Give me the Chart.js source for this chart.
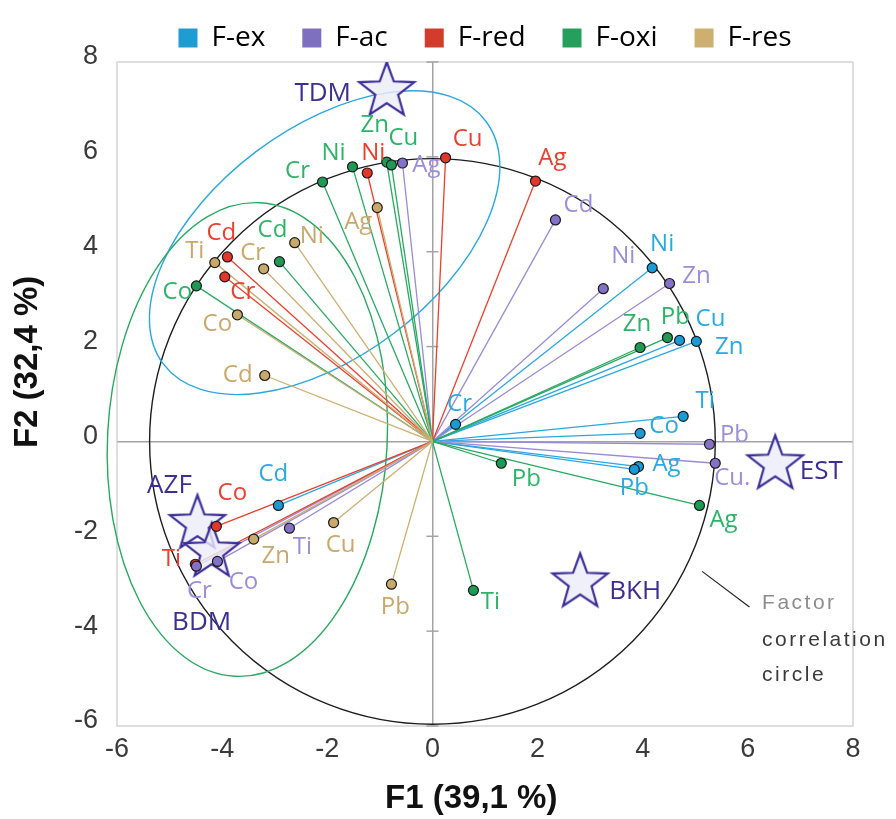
<!DOCTYPE html>
<html>
<head>
<meta charset="utf-8">
<script src="https://cdn.jsdelivr.net/npm/chart.js@4.4.1/dist/chart.umd.min.js"></script>
<style>
  html, body { margin: 0; padding: 0; background: #fff; }
  #wrap { width: 896px; height: 819px; }
</style>
</head>
<body>
<div id="wrap"><canvas id="biplot"></canvas></div>
<script>
// PCA biplot - loadings of metal fractions on F1/F2, plus sampling sites

const xTicks = [-6, -4, -2, 0, 2, 4, 6, 8];
const yTicks = [-6, -4, -2, 0, 2, 4, 6, 8];

const exNames = ['Ni', 'Cu', 'Zn', 'Ti', 'Co', 'Ag', 'Pb', 'Cr', 'Cd'];
const exF1 = [4.18, 4.70, 5.02, 4.77, 3.95, 3.92, 3.84, 0.44, -2.93];
const exF2 = [3.66, 2.13, 2.11, 0.53, 0.17, -0.53, -0.59, 0.36, -1.35];

const acNames = ['Ag', 'Cd', 'Ni', 'Zn', 'Pb', 'Cu.', 'Ti', 'Co', 'Cr'];
const acF1 = [-0.57, 2.34, 3.25, 4.51, 5.27, 5.38, -2.72, -4.09, -4.49];
const acF2 = [5.87, 4.67, 3.22, 3.33, -0.06, -0.46, -1.83, -2.53, -2.63];

const redNames = ['Cu', 'Ag', 'Ni', 'Cd', 'Cr', 'Co', 'Ti'];
const redF1 = [0.25, 1.96, -1.24, -3.90, -3.95, -4.11, -4.51];
const redF2 = [5.98, 5.49, 5.66, 3.89, 3.47, -1.79, -2.59];

const oxiNames = ['Zn', 'Cu', 'Ni', 'Cr', 'Cd', 'Co', 'Zn', 'Pb', 'Ag', 'Pb', 'Ti'];
const oxiF1 = [-0.87, -0.78, -1.52, -2.09, -2.91, -4.49, 3.95, 4.47, 5.08, 1.31, 0.78];
const oxiF2 = [5.89, 5.83, 5.79, 5.47, 3.79, 3.28, 1.98, 2.19, -1.35, -0.46, -3.14];

const resNames = ['Ag', 'Ni', 'Cr', 'Ti', 'Co', 'Cd', 'Zn', 'Cu', 'Pb'];
const resF1 = [-1.05, -2.62, -3.21, -4.14, -3.71, -3.19, -3.40, -1.88, -0.78];
const resF2 = [4.93, 4.19, 3.64, 3.77, 2.67, 1.39, -2.06, -1.71, -3.01];

const siteNames = ['TDM', 'EST', 'BKH', 'AZF', 'BDM'];
const siteF1 = [-0.87, 6.52, 2.81, -4.47, -4.20];
const siteF2 = [7.45, -0.42, -2.91, -1.68, -2.27];

// label placement (pixel offsets from each marker)
const exLabelOff = [[10, -24], [31, -21], [33, 6], [22, -15], [24, -7], [28, -2], [0, 19], [4, -20], [-5, -31]];
const acLabelOff = [[24, 2], [23, -15], [20, -33], [27, -7], [25, -9], [17, 15], [13, 19], [26, 21], [3, 25]];
const redLabelOff = [[22, -19], [17, -23], [6, -20], [-6, -24], [18, 15], [16, -33], [-24, -5]];
const oxiLabelOff = [[-12, -37], [12, -27], [-19, -14], [-25, -11], [-7, -32], [-19, 6], [-3, -23], [8, -20], [24, 15], [25, 16], [17, 12]];
const resLabelOff = [[-19, 15], [17, -7], [-11, -16], [-20, -11], [-20, 9], [-27, 0], [22, 17], [7, 23], [4, 23]];
const siteLabelOff = [[-64, 6], [46, 10], [55, 12], [-28, -36], [-10, 74]];

// circle radius and group ellipses, in F1 units
const circleRadius = 5.38;
const groups = [
    { cx: -2.05, cy: 4.19, rx: 3.84, ry: 2.17, rot: -37, color: '#2ba7df' },
    { cx: -3.52, cy: 0.04, rx: 2.66, ry: 4.51, rot: 3, color: '#2aa862' },
];

function pts(f1, f2) {
    return f1.map((v, i) => ({ x: v, y: f2[i] }));
}

function starImage() {
    const c = document.createElement('canvas');
    c.width = 66;
    c.height = 64;
    const g = c.getContext('2d');
    const cx = 33, cy = 35, R = 29, r = 12;
    g.beginPath();
    for (let k = 0; k < 10; k++) {
        const ang = -Math.PI / 2 + k * Math.PI / 5;
        const rr = k % 2 ? r : R;
        g.lineTo(cx + rr * Math.cos(ang), cy + rr * Math.sin(ang));
    }
    g.closePath();
    g.fillStyle = 'rgba(236, 236, 250, 0.8)';
    g.fill();
    g.strokeStyle = '#3b2e98';
    g.lineWidth = 2.2;
    g.stroke();
    return c;
}

function series(label, names, f1, f2, off, dot, ray, text, legend) {
    return {
        label: label,
        data: pts(f1, f2),
        names: names,
        off: off,
        ray: ray,
        textColor: text,
        backgroundColor: legend,
        borderColor: legend,
        borderWidth: 0,
        pointRadius: 5,
        pointHoverRadius: 5,
        pointBackgroundColor: dot,
        pointBorderColor: '#1a1a1a',
        pointBorderWidth: 1.2,
    };
}

const labelFont = '24px "Open Sans", sans-serif';

const decor = {
    id: 'decor',
    beforeDatasetsDraw(chart) {
        const { ctx, chartArea: a, scales: { x, y } } = chart;
        const ox = x.getPixelForValue(0), oy = y.getPixelForValue(0);
        const ux = x.getPixelForValue(1) - ox;
        ctx.save();
        ctx.strokeStyle = '#c9c9c9';
        ctx.lineWidth = 1.2;
        ctx.strokeRect(a.left, a.top, a.right - a.left, a.bottom - a.top);

        ctx.strokeStyle = '#a3a3a3';
        ctx.lineWidth = 1.5;
        y.ticks.forEach(t => {
            if (t.value === 0) return;
            const py = y.getPixelForValue(t.value);
            ctx.beginPath();
            ctx.moveTo(ox - 6, py);
            ctx.lineTo(ox + 6, py);
            ctx.stroke();
        });

        ctx.strokeStyle = '#1e1e1e';
        ctx.lineWidth = 1.4;
        ctx.beginPath();
        ctx.arc(ox, oy, circleRadius * ux, 0, Math.PI * 2);
        ctx.stroke();

        groups.forEach(gr => {
            ctx.strokeStyle = gr.color;
            ctx.lineWidth = 1.4;
            ctx.beginPath();
            ctx.ellipse(x.getPixelForValue(gr.cx), y.getPixelForValue(gr.cy),
                gr.rx * ux, gr.ry * ux, gr.rot * Math.PI / 180, 0, Math.PI * 2);
            ctx.stroke();
        });

        chart.data.datasets.forEach((ds, i) => {
            if (!ds.ray) return;
            ctx.strokeStyle = ds.ray;
            ctx.lineWidth = 1.3;
            chart.getDatasetMeta(i).data.forEach(p => {
                ctx.beginPath();
                ctx.moveTo(ox, oy);
                ctx.lineTo(p.x, p.y);
                ctx.stroke();
            });
        });
        ctx.restore();
    },
    afterDatasetsDraw(chart) {
        const { ctx, scales: { x, y } } = chart;
        ctx.save();
        ctx.textAlign = 'center';
        ctx.textBaseline = 'middle';
        chart.data.datasets.forEach((ds, i) => {
            ctx.font = ds.ray ? labelFont : '26px "Open Sans", sans-serif';
            ctx.fillStyle = ds.textColor;
            chart.getDatasetMeta(i).data.forEach((p, j) => {
                ctx.fillText(ds.names[j], p.x + ds.off[j][0], p.y + ds.off[j][1]);
            });
        });

        // "Factor correlation circle" note
        ctx.strokeStyle = '#222';
        ctx.lineWidth = 1.2;
        ctx.beginPath();
        ctx.moveTo(x.getPixelForValue(5.13), y.getPixelForValue(-2.74));
        ctx.lineTo(x.getPixelForValue(6.03), y.getPixelForValue(-3.49));
        ctx.stroke();
        ctx.textAlign = 'left';
        ctx.textBaseline = 'alphabetic';
        ctx.font = '21px "Liberation Sans", sans-serif';
        ctx.letterSpacing = '2.5px';
        const tx = x.getPixelForValue(6.27);
        ctx.fillStyle = '#8c8c8c';
        ctx.fillText('Factor', tx, y.getPixelForValue(-3.54));
        ctx.fillStyle = '#3a3a3a';
        ctx.fillText('correlation', tx, y.getPixelForValue(-4.32));
        ctx.fillText('circle', tx, y.getPixelForValue(-5.05));
        ctx.restore();
    }
};

document.addEventListener('DOMContentLoaded', function () {
    const canvas = document.getElementById('biplot');
    const ctx = canvas.getContext('2d');

    const datasets = [
        series('F-ex', exNames, exF1, exF2, exLabelOff, '#1b9bd5', '#2ba7df', '#2aa9e1', '#1f9dd2'),
        series('F-ac', acNames, acF1, acF2, acLabelOff, '#8472c8', '#9a8bd6', '#9a8ed8', '#7f6fbf'),
        series('F-red', redNames, redF1, redF2, redLabelOff, '#e2372a', '#e8402f', '#e8402f', '#d33c2c'),
        series('F-oxi', oxiNames, oxiF1, oxiF2, oxiLabelOff, '#1f9a55', '#2aa862', '#2db368', '#24a05c'),
        series('F-res', resNames, resF1, resF2, resLabelOff, '#c9a96a', '#cdae72', '#c8a86c', '#cdb070'),
        {
            label: 'Sites',
            data: pts(siteF1, siteF2),
            names: siteNames,
            off: siteLabelOff,
            textColor: '#3b2f92',
            pointStyle: starImage(),
            pointRadius: 30,
            pointHoverRadius: 30,
        },
    ];

    const axisFont = { family: '"Liberation Sans Narrow", "Liberation Sans", sans-serif', size: 27 };
    const titleFont = { family: '"Liberation Sans", Arial, sans-serif', size: 33, weight: 'bold' };
    const zeroGrid = c => (c.tick && c.tick.value === 0 ? '#a3a3a3' : 'rgba(0,0,0,0)');

    new Chart(ctx, {
        type: 'scatter',
        data: { datasets: datasets },
        plugins: [decor],
        options: {
            responsive: true,
            maintainAspectRatio: false,
            animation: false,
            events: [],
            layout: { padding: { top: -25, right: 43, bottom: 0, left: 0 } },
            plugins: {
                tooltip: { enabled: false },
                legend: {
                    position: 'top',
                    fullSize: false,
                    labels: {
                        boxWidth: 19,
                        boxHeight: 19,
                        padding: 37,
                        color: '#3a3a3a',
                        font: { family: '"Open Sans", sans-serif', size: 28 },
                        generateLabels: chart => chart.data.datasets
                            .map((d, i) => ({ d: d, i: i }))
                            .filter(o => o.d.ray)
                            .map(o => ({
                                text: o.d.label,
                                fillStyle: o.d.backgroundColor,
                                strokeStyle: o.d.backgroundColor,
                                lineWidth: 0,
                                hidden: false,
                                datasetIndex: o.i,
                            })),
                    },
                },
            },
            scales: {
                x: {
                    min: -6,
                    max: 8,
                    afterBuildTicks: s => { s.ticks = xTicks.map(v => ({ value: v })); },
                    afterFit: s => { s.height = 93; },
                    border: { display: false },
                    grid: { color: zeroGrid, lineWidth: 1.5, drawTicks: false },
                    ticks: { padding: 7, color: '#3a3a3a', font: axisFont },
                    title: { display: true, text: 'F1 (39,1 %)   ', color: '#111', font: titleFont, padding: { top: 0, bottom: 0 } },
                },
                y: {
                    min: -6,
                    max: 8,
                    afterBuildTicks: s => { s.ticks = yTicks.map(v => ({ value: v })); },
                    afterFit: s => { s.width = 117; s.paddingTop = 62; },
                    border: { display: false },
                    grid: { color: zeroGrid, lineWidth: 1.5, drawTicks: false },
                    ticks: { padding: 19, labelOffset: -5, color: '#3a3a3a', font: axisFont },
                    title: { display: true, text: '       F2 (32,4 %)', color: '#111', font: titleFont, padding: { top: 8, bottom: 0 } },
                },
            },
        },
    });
});
</script>
</body>
</html>
